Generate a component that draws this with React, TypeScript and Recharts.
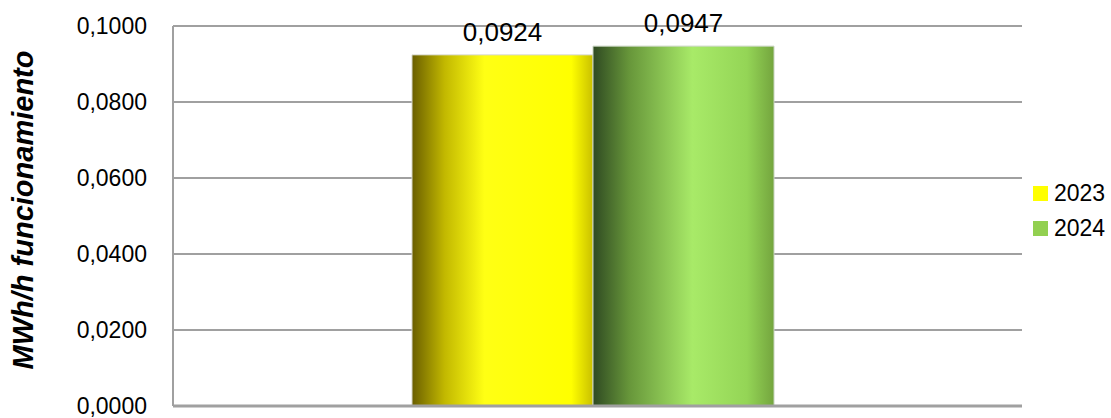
import {
  BarChart,
  Bar,
  XAxis,
  YAxis,
  CartesianGrid,
  LabelList,
} from "recharts";

const categories = ["Funcionamiento"];
const values2023 = [0.0924];
const values2024 = [0.0947];
const seriesNames = ["2023", "2024"];
const legendColors = ["#ffff00", "#92d050"];
const yTicks = [0, 0.02, 0.04, 0.06, 0.08, 0.1];
const yLabel = "MWh/h funcionamiento";

const FONT = "'Liberation Sans', Arial, sans-serif";

const data = categories.map((c, i) => ({
  name: c,
  [seriesNames[0]]: values2023[i],
  [seriesNames[1]]: values2024[i],
}));

const fmt = (v: number) => v.toFixed(4).replace(".", ",");

function LegendBox() {
  return (
    <div
      style={{
        position: "absolute",
        left: 1033,
        top: 176,
        fontFamily: FONT,
        fontSize: 23,
        color: "#000",
      }}
    >
      {seriesNames.map((s, i) => (
        <div
          key={s}
          style={{ display: "flex", alignItems: "center", height: 35 }}
        >
          <span
            style={{
              width: 15,
              height: 15,
              background: legendColors[i],
              marginRight: 6,
              display: "inline-block",
            }}
          />
          {s}
        </div>
      ))}
    </div>
  );
}

export default function App() {
  return (
    <div
      style={{ position: "relative", width: 1111, height: 418, background: "#fff" }}
    >
      <style>{"body{margin:0}"}</style>
      <BarChart
        width={1111}
        height={418}
        data={data}
        margin={{ top: 26, right: 89, bottom: 11, left: 0 }}
        barGap={0}
        barSize={181}
      >
        <defs>
          <linearGradient id="g2023" x1="0" y1="0" x2="1" y2="0">
            <stop offset="0%" stopColor="#6a5e00" />
            <stop offset="18%" stopColor="#c2b800" />
            <stop offset="40%" stopColor="#ffff14" />
            <stop offset="88%" stopColor="#ffff00" />
            <stop offset="100%" stopColor="#c9c000" />
          </linearGradient>
          <linearGradient id="g2024" x1="0" y1="0" x2="1" y2="0">
            <stop offset="0%" stopColor="#2f4a22" />
            <stop offset="20%" stopColor="#67963a" />
            <stop offset="55%" stopColor="#a8ea68" />
            <stop offset="85%" stopColor="#94d556" />
            <stop offset="100%" stopColor="#74a53e" />
          </linearGradient>
        </defs>
        <CartesianGrid
          vertical={false}
          stroke="#a0a0a0"
          strokeWidth={2}
        />
        <XAxis
          dataKey="name"
          tick={false}
          tickLine={false}
          height={1}
          padding={{ left: 0, right: 9 }}
          axisLine={{ stroke: "#a0a0a0", strokeWidth: 3 }}
        />
        <YAxis
          width={173}
          domain={[0, 0.1]}
          ticks={yTicks}
          interval={0}
          tickFormatter={fmt}
          tickSize={0}
          tickMargin={26}
          tickLine={false}
          axisLine={{ stroke: "#a0a0a0", strokeWidth: 2 }}
          tick={{ fill: "#000", fontSize: 23, fontFamily: FONT }}
          label={{
            content: () => (
              <text
                x={33}
                y={210}
                transform="rotate(-90, 33, 210)"
                textAnchor="middle"
                fontFamily={FONT}
                fontSize={29}
                fontWeight="bold"
                fontStyle="italic"
                fill="#000"
              >
                {yLabel}
              </text>
            ),
          }}
        />
        <Bar
          dataKey={seriesNames[0]}
          fill="url(#g2023)"
          stroke="#d6d6c8"
          strokeWidth={1}
          isAnimationActive={false}
        >
          <LabelList
            dataKey={seriesNames[0]}
            position="top"
            offset={14}
            formatter={(v: number) => fmt(v)}
            style={{ fill: "#000", fontSize: 26, fontFamily: FONT }}
          />
        </Bar>
        <Bar
          dataKey={seriesNames[1]}
          fill="url(#g2024)"
          stroke="#c8d4c0"
          strokeWidth={1}
          isAnimationActive={false}
        >
          <LabelList
            dataKey={seriesNames[1]}
            position="top"
            offset={14}
            formatter={(v: number) => fmt(v)}
            style={{ fill: "#000", fontSize: 26, fontFamily: FONT }}
          />
        </Bar>
      </BarChart>
      <LegendBox />
    </div>
  );
}
